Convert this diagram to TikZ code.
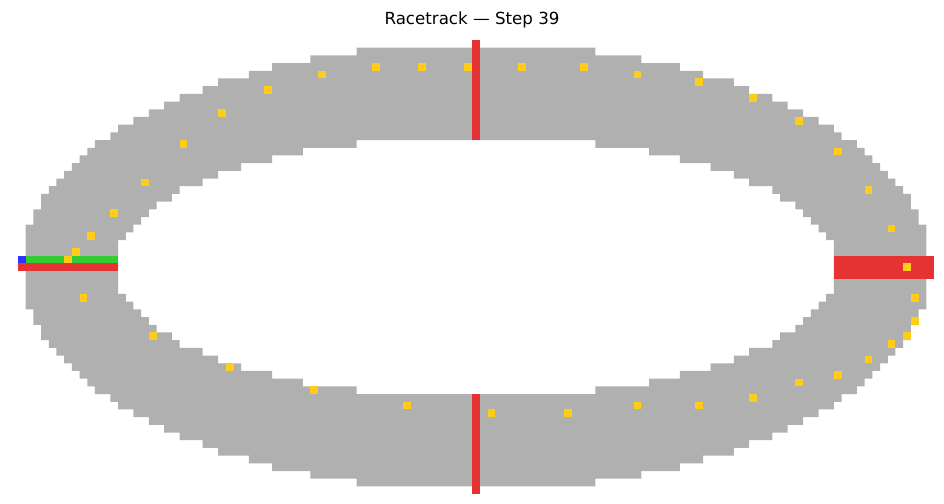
\documentclass[tikz,border=0pt]{standalone}
\usepackage{fontspec}
\setmainfont{DejaVu Sans}
\usetikzlibrary{positioning}
\definecolor{trackgray}{RGB}{176,176,176}
\definecolor{wallred}{RGB}{229,51,51}
\definecolor{startgreen}{RGB}{51,204,51}
\definecolor{carblue}{RGB}{51,51,255}
\definecolor{visityellow}{RGB}{255,204,26}
\tikzset{
    track/.style = {fill=trackgray},
    wall/.style = {fill=wallred},
    startline/.style = {fill=startgreen},
    car/.style = {fill=carblue},
    visit/.style = {fill=visityellow},
    heading/.style = {font=\fontsize{12}{14}\selectfont, inner sep=0pt, anchor=base}
}

\begin{document}
\begin{tikzpicture}[x=0.72pt, y=-0.72pt]
        \useasboundingbox (0,0) rectangle (944,504);

        % Title
        \node (title) [heading] at (472,25) {Racetrack — Step 39};

        \begin{scope}[shift={(18,40)}, scale=7.697]
            % TRACK (ring of grid cells, row half-widths outer/inner)
            \fill[track] \foreach \dy/\o/\h in {0/58.5/46.5, 1/58.5/46.5, 2/58.5/46.5, 3/58.5/46.5,
                4/58.5/45.5, 5/58.5/44.5, 6/57.5/43.5, 7/57.5/42.5, 8/56.5/41.5, 9/56.5/39.5,
                10/55.5/38.5, 11/54.5/35.5, 12/53.5/33.5, 13/52.5/30.5, 14/51.5/26.5, 15/50.5/22.5,
                16/49.5/15.5, 17/47.5/0, 18/46.5/0, 19/44.5/0, 20/42.5/0, 21/40.5/0, 22/38.5/0,
                23/35.5/0, 24/33.5/0, 25/29.5/0, 26/26.5/0, 27/21.5/0, 28/15.5/0} {
                \foreach \s in {-1,1} {
                    ({59.5-\o},{29+\s*\dy}) rectangle ({59.5-\h},{30+\s*\dy})
                    ({59.5+\h},{29+\s*\dy}) rectangle ({59.5+\o},{30+\s*\dy})
                }
            };

            % Walls
            \fill[wall] (59,0) rectangle (60,13);
            \fill[wall] (59,46) rectangle (60,59);
            \fill[wall] (0,29) rectangle (13,30);
            \fill[wall] (106,28) rectangle (119,31);

            % Start line and car
            \fill[startline] (1,28) rectangle (13,29);
            \fill[car] (0,28) rectangle (1,29);

            % VISITED CELLS (trajectory)
            \foreach \c/\r in {6/28, 7/27, 9/25, 12/22, 16/18, 21/13, 26/9, 32/6, 39/4, 46/3,
                52/3, 58/3, 65/3, 73/3, 80/4, 88/5, 95/7, 101/10, 106/14, 110/19, 113/24,
                115/29, 116/33, 116/36, 115/38, 113/39, 110/41, 106/43, 101/44, 95/46,
                88/47, 80/47, 71/48, 61/48, 50/47, 38/45, 27/42, 17/38, 8/33}
                \fill[visit] (\c,\r) rectangle ++(1,1);
        \end{scope}
    \end{tikzpicture}
\end{document}
